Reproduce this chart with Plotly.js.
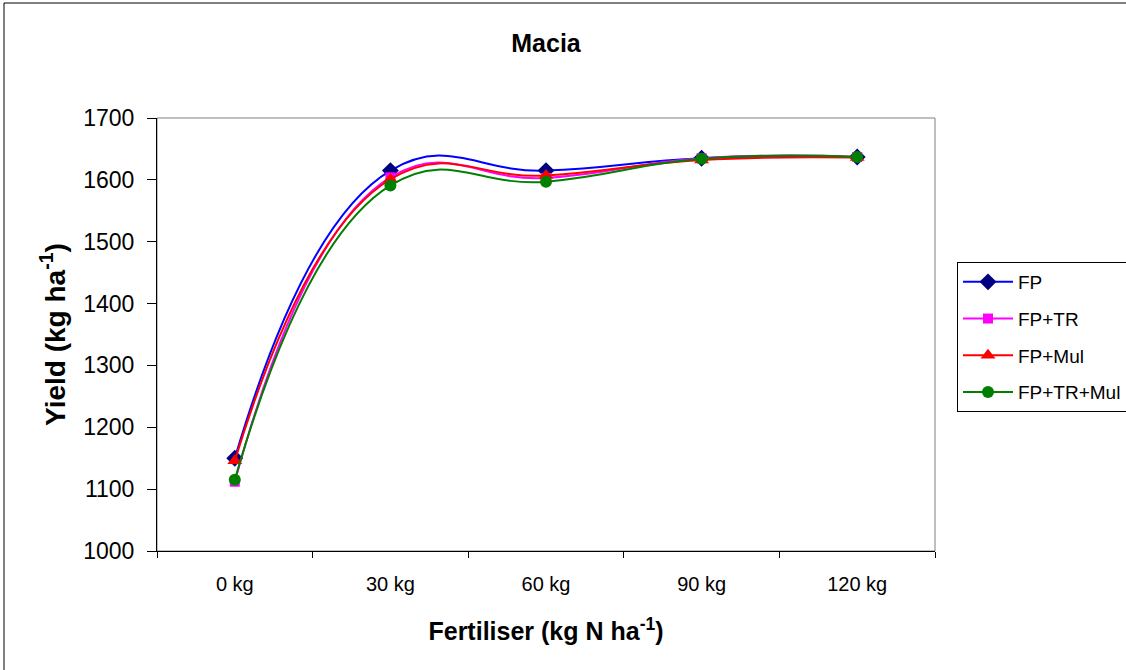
<!DOCTYPE html>
<html><head><meta charset="utf-8">
<script src="https://cdn.plot.ly/plotly-3.0.1.min.js"></script>
<style>body{margin:0;padding:0;background:#fff}#c{width:1126px;height:670px}</style>
</head><body><div id="c"></div>
<script>
const categories = ["0 kg","30 kg","60 kg","90 kg","120 kg"];
const seriesNames = ["FP","FP+TR","FP+Mul","FP+TR+Mul"];
const fp = [1150,1615,1615,1635,1637];
const fpTR = [1112,1604,1603,1635,1637];
const fpMul = [1146,1601,1607,1632,1636];
const fpTRMul = [1115,1591,1597,1634,1637];
const yTicks = [1000,1100,1200,1300,1400,1500,1600,1700];

const styles = [
  {line:"#0000FF", marker:"#000080", symbol:"diamond", size:13},
  {line:"#FF00FF", marker:"#FF00FF", symbol:"square", size:10},
  {line:"#FF0000", marker:"#FF0000", symbol:"triangle-up", size:13},
  {line:"#008000", marker:"#008000", symbol:"circle", size:12}
];
const values = [fp, fpTR, fpMul, fpTRMul];
const traces = values.map((v,i)=>({
  type:"scatter", mode:"lines+markers", name:seriesNames[i],
  x:categories, y:v, legendgroup:"g"+i,
  line:{color:styles[i].line, width:2, shape:"spline", smoothing:1.3},
  marker:{color:styles[i].marker, symbol:styles[i].symbol, size:styles[i].size, line:{width:0}}
}));

const layout = {
  width:1126, height:670,
  margin:{l:157, r:191, t:118, b:119, autoexpand:false},
  paper_bgcolor:"#fff", plot_bgcolor:"#fff",
  font:{family:"Liberation Sans, Arial, sans-serif", color:"#000"},
  title:{text:"<b>Macia</b>", font:{size:25}, x:0.5, xref:"paper", xanchor:"center", y:1-43/670, yanchor:"middle"},
  xaxis:{type:"category", tickson:"boundaries", ticks:"outside", ticklen:6, tickcolor:"#000",
    showline:true, linecolor:"#000", linewidth:1, showgrid:false, zeroline:false,
    tickfont:{size:20}, range:[-0.5,4.5], ticklabelstandoff:15,
    title:{text:"<b>Fertiliser (kg N ha<sup>-1</sup>)</b>", font:{size:25}, standoff:28}},
  yaxis:{range:[1000,1700], tickvals:yTicks, ticks:"outside", ticklen:9, tickcolor:"#000",
    showline:true, linecolor:"#000", linewidth:1, showgrid:false, zeroline:false,
    tickfont:{size:23}, ticklabelstandoff:8,
    title:{text:"<b>Yield (kg ha<sup>-1</sup>)</b>", font:{size:28}, standoff:9}},
  legend:{x:(957-157)/778, xanchor:"left", y:(551-262)/433, yanchor:"top",
    bordercolor:"#000", borderwidth:1, bgcolor:"#fff", font:{size:19},
    tracegroupgap:9, itemwidth:50, traceorder:"grouped"},
  shapes:[
    {type:"rect", xref:"paper", yref:"paper", x0:0, x1:1, y0:0, y1:1, line:{color:"#808080", width:1}, layer:"below"},
    {type:"rect", xref:"paper", yref:"paper", x0:(4-157)/778, x1:1.3, y0:-0.4, y1:(551-3)/433, line:{color:"#000", width:1}, layer:"below"}
  ]
};
Plotly.newPlot("c", traces, layout, {displayModeBar:false, staticPlot:true});
</script></body></html>
